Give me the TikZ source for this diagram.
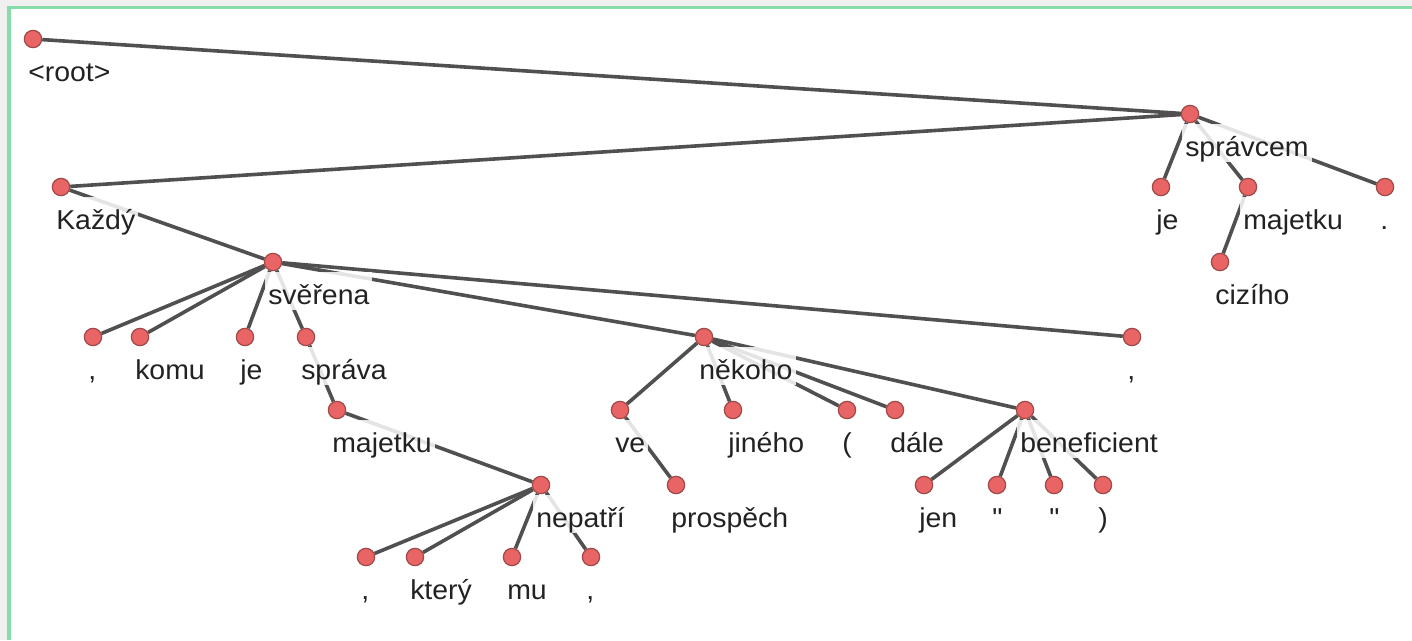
\documentclass[tikz,border=0pt]{standalone}
\usepackage{fontspec}
\setmainfont[FakeStretch=1.04]{Liberation Sans}
\newfontfamily\qfont[FakeStretch=1.04]{Liberation Sans}
\definecolor{edgec}{HTML}{505050}
\definecolor{dotfill}{HTML}{E96565}
\definecolor{dotdraw}{HTML}{A04848}
\definecolor{framec}{HTML}{86DDAA}
\definecolor{bgc}{HTML}{F0F0F0}
\definecolor{txt}{HTML}{222222}
\pgfdeclarelayer{bg}
\pgfsetlayers{bg,main}
\tikzset{
  tdot/.style={circle,draw=dotdraw,fill=dotfill,line width=0.9pt,minimum size=13pt,inner sep=0pt},
  lab/.style={anchor=base west,fill=white,fill opacity=0.85,text opacity=1,text=txt,
    inner xsep=2.25pt,inner ysep=0pt,text height=24pt,text depth=4.5pt,
    font=\fontsize{20.5}{24}\selectfont},
  edge/.style={draw=edgec,line width=2.7pt}
}
\newcommand\tnode[4]{%
  \node[tdot] (#1) at (#2,#3) {};
  \node[lab] (#1-l) at ([xshift=-6pt,yshift=-31.5pt]#1.center) {#4};}
\begin{document}
\begin{tikzpicture}[x=0.75pt,y=-0.75pt]
\useasboundingbox (0,0) rectangle (1412,640);
\begin{pgfonlayer}{bg}
\fill[bgc] (0,0) rectangle (1412,640);
\fill[white] (9,7.5) rectangle (1412,640);
\draw[framec,line width=2.4pt] (9,640) -- (9,7.5) -- (1412,7.5);
\end{pgfonlayer}
\tnode{root}{33}{39}{<root>}
\tnode{spravcem}{1190}{114}{správcem}
\tnode{kazdy}{61}{187}{Každý}
\tnode{je1}{1161}{187}{je}
\tnode{majetku1}{1248}{187}{majetku}
\tnode{dot}{1385}{187}{.}
\tnode{ciziho}{1220}{262}{cizího}
\tnode{sverena}{273}{262}{svěřena}
\tnode{c1}{93}{337}{,}
\tnode{komu}{140}{337}{komu}
\tnode{je2}{245}{337}{je}
\tnode{sprava}{306}{337}{správa}
\tnode{c4}{1132}{337}{,}
\tnode{nekoho}{704}{337}{někoho}
\tnode{majetku2}{337}{410}{majetku}
\tnode{ve}{620}{410}{ve}
\tnode{jineho}{733}{410}{jiného}
\tnode{lpar}{847}{410}{(}
\tnode{dale}{895}{410}{dále}
\tnode{benef}{1025}{410}{beneficient}
\tnode{nepatri}{541}{485}{nepatří}
\tnode{prospech}{676}{485}{prospěch}
\tnode{jen}{924}{485}{jen}
\tnode{qa}{997}{485}{\qfont"}
\tnode{qb}{1054}{485}{\qfont"}
\tnode{rpar}{1103}{485}{)}
\tnode{c2}{366}{557}{,}
\tnode{ktery}{415}{557}{který}
\tnode{mu}{512}{557}{mu}
\tnode{c3}{591}{557}{,}
\begin{pgfonlayer}{bg}
\draw[edge] (root) -- (spravcem);
\draw[edge] (spravcem) -- (kazdy);
\draw[edge] (spravcem) -- (je1);
\draw[edge] (spravcem) -- (majetku1);
\draw[edge] (spravcem) -- (dot);
\draw[edge] (majetku1) -- (ciziho);
\draw[edge] (kazdy) -- (sverena);
\draw[edge] (sverena) -- (c1);
\draw[edge] (sverena) -- (komu);
\draw[edge] (sverena) -- (je2);
\draw[edge] (sverena) -- (sprava);
\draw[edge] (sverena) -- (nekoho);
\draw[edge] (sverena) -- (c4);
\draw[edge] (sprava) -- (majetku2);
\draw[edge] (majetku2) -- (nepatri);
\draw[edge] (nepatri) -- (c2);
\draw[edge] (nepatri) -- (ktery);
\draw[edge] (nepatri) -- (mu);
\draw[edge] (nepatri) -- (c3);
\draw[edge] (nekoho) -- (ve);
\draw[edge] (nekoho) -- (jineho);
\draw[edge] (nekoho) -- (lpar);
\draw[edge] (nekoho) -- (dale);
\draw[edge] (nekoho) -- (benef);
\draw[edge] (ve) -- (prospech);
\draw[edge] (benef) -- (jen);
\draw[edge] (benef) -- (qa);
\draw[edge] (benef) -- (qb);
\draw[edge] (benef) -- (rpar);
\end{pgfonlayer}
\end{tikzpicture}
\end{document}
